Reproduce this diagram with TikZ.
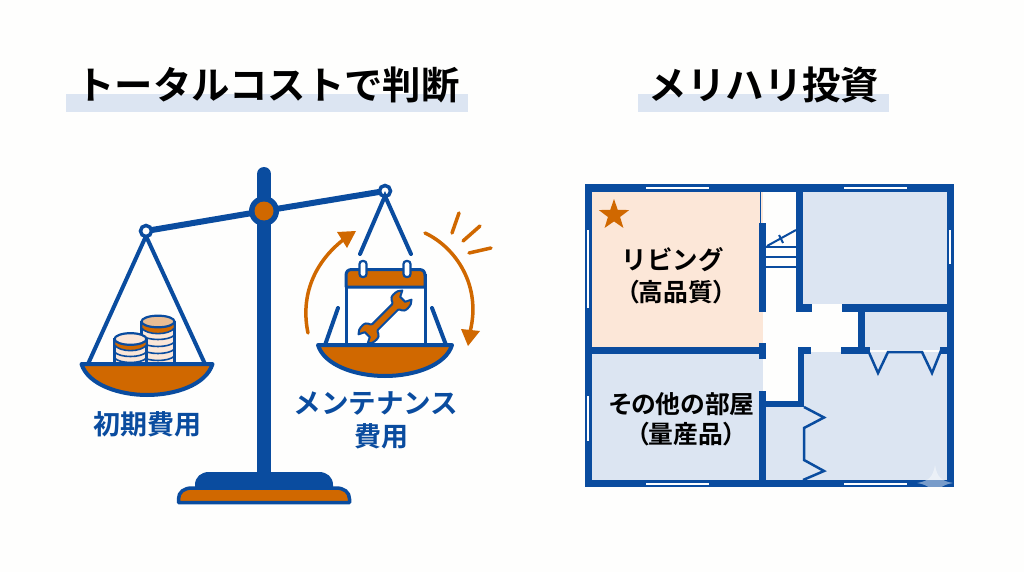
\documentclass[tikz,border=0pt]{standalone}
\usepackage{fontspec}
\usetikzlibrary{shapes.geometric}
\newfontfamily\jp{Noto Sans CJK JP}[BoldFont={Noto Sans CJK JP Bold}]
\newfontfamily\jpp{Noto Sans CJK JP}[BoldFont={Noto Sans CJK JP Bold},RawFeature=+palt]
\definecolor{navy}{HTML}{0A4C9F}
\definecolor{rust}{HTML}{D06800}
\definecolor{mist}{HTML}{DCE5F2}
\definecolor{peach}{HTML}{FCE7D8}
\definecolor{paper}{HTML}{FEFEFD}
\definecolor{coinpale}{HTML}{FBE6D8}
\definecolor{cointop}{HTML}{E9BD94}
\tikzset{
  heading/.style={font=\jp\bfseries\fontsize{38.4}{40}\selectfont,text=black,inner sep=0pt},
  costlabel/.style={font=\jp\bfseries\fontsize{27}{30}\selectfont,text=navy,inner sep=0pt},
  roomlabel/.style={font=\jpp\bfseries\fontsize{24.8}{30}\selectfont,text=black,inner sep=0pt},
  wall/.style={fill=navy},
  thinline/.style={draw=navy,line width=2.5pt,line join=miter},
  chain/.style={draw=navy,line width=4pt},
  swing/.style={draw=rust,line width=3.5pt,line cap=round},
  windowpane/.style={draw=white,line width=2.6pt},
  bowl/.style={draw=navy,fill=rust,line width=4pt,line join=round},
  coinband/.style={draw=navy,line width=1.6pt},
  coinbody/.style={draw=navy,line width=2.4pt,fill=coinpale}
}
\begin{document}
\begin{tikzpicture}[x=1pt,y=-1pt]
\useasboundingbox (0,0) rectangle (1024,572);
\fill[paper] (0,0) rectangle (1024,572);

% headings with their highlight bars
\fill[mist] (66,94) rectangle (468,112);
\fill[mist] (638,94) rectangle (889,112);
\node[heading] (titleL) at (268,85) {トータルコストで判断};
\node[heading] (titleR) at (764,85) {メリハリ投資};

% tall coin stack: body, orange band, coin edges, top face
\draw[coinbody] (141.5,322) rectangle (174.5,366);
\draw[coinband,fill=rust] (141.5,322) -- (141.5,328) .. controls (147,335.5) and (169,335.5) .. (174.5,328) -- (174.5,322) -- cycle;
\foreach \y in {335,342,349,356}{
  \draw[coinband] (141.5,\y) .. controls (147,\y+6) and (169,\y+6) .. (174.5,\y);
}
\draw[navy,line width=2.2pt,fill=cointop] (158,321.5) ellipse [x radius=16.5,y radius=5.8];

% short coin stack
\draw[coinbody] (114.5,339) rectangle (146.5,366);
\draw[coinband,fill=rust] (114.5,339) -- (114.5,345) .. controls (120,352.5) and (141,352.5) .. (146.5,345) -- (146.5,339) -- cycle;
\foreach \y in {352,358}{
  \draw[coinband] (114.5,\y) .. controls (120,\y+6) and (141,\y+6) .. (146.5,\y);
}
\draw[navy,line width=2.2pt,fill=coinpale] (130.5,339) ellipse [x radius=16,y radius=5.8];

% left pan
\draw[chain] (146,236) -- (88,364);
\draw[chain] (146,236) -- (205,364);
\draw[bowl] (81.5,364) .. controls (88,385) and (120,395) .. (147,395) .. controls (175,395) and (206,385) .. (212.5,364) -- cycle;

% stand, beam and pivot
\fill[navy] (195,490) -- (195,485) .. controls (195,477) and (201,472) .. (209,472) -- (319,472) .. controls (327,472) and (333,477) .. (333,485) -- (333,490) -- cycle;
\draw[navy,line width=14pt,line cap=round] (264,174) -- (264,480);
\draw[navy,line width=3.5pt,fill=rust,line join=round] (178.5,502.5) -- (178.5,499) .. controls (178.5,492) and (184,488) .. (192,488) -- (336,488) .. controls (344,488) and (349.5,492) .. (349.5,499) -- (349.5,502.5) -- cycle;
\draw[navy,line width=6pt] (146,231) -- (264,211) -- (385,191);
\fill[navy] (264,211) circle (15);
\fill[rust] (264,211) circle (9.5);
\draw[navy,line width=3.5pt,fill=paper] (146,231) circle (5.5);
\draw[navy,line width=3.5pt,fill=paper] (385,191) circle (5.5);

% right pan hangers
\draw[chain,line cap=round] (360,254) -- (385,196) -- (411,254);
\draw[chain,line cap=round] (338,308) -- (325,345);
\draw[chain,line cap=round] (432,308) -- (446,345);

% maintenance calendar
\draw[navy,line width=3pt,fill=white] (346,345) -- (346,275) -- (425,275) -- (425,345);
\draw[navy,line width=3pt,fill=rust,line join=round] (346,287) -- (346,275.5) .. controls (346,271.5) and (348,269.5) .. (352,269.5) -- (419,269.5) .. controls (423,269.5) and (425,271.5) .. (425,275.5) -- (425,287) -- cycle;
\draw[navy,line width=2.2pt,fill=white,rounded corners=3pt] (359.5,261) rectangle (366.5,277);
\draw[navy,line width=2.2pt,fill=white,rounded corners=3pt] (403.5,261) rectangle (410.5,277);

% wrench
\begin{scope}[shift={(385,317)},rotate=45]
\draw[navy,line width=2pt,fill=rust,line join=round]
  (-14,4) -- (14,4) .. controls (17,4) and (15,10) .. (22,10)
  .. controls (26,10) and (29,9) .. (31,6.5) -- (25,3.5) -- (25,-3.5) -- (31,-6.5)
  .. controls (29,-9) and (26,-10) .. (22,-10) .. controls (15,-10) and (17,-4) .. (14,-4)
  -- (-14,-4) .. controls (-17,-4) and (-15,-10) .. (-22,-10)
  .. controls (-26,-10) and (-29,-9) .. (-31,-6.5) -- (-25,-3.5) -- (-25,3.5) -- (-31,6.5)
  .. controls (-29,9) and (-26,10) .. (-22,10) .. controls (-15,10) and (-17,4) .. (-14,4) -- cycle;
\end{scope}

% right pan bowl
\draw[bowl] (318,345) .. controls (324,365) and (355,376) .. (385,376) .. controls (415,376) and (446,365) .. (452,345) -- cycle;

% motion arrows and sparkle strokes
\draw[swing] (308,333) .. controls (300,295) and (315,262) .. (343,240);
\fill[rust] (356,231) -- (337,232) -- (347,248) -- cycle;
\draw[swing] (425,233) .. controls (455,247) and (482,285) .. (470,332);
\fill[rust] (468,346) -- (461,329) -- (480,331) -- cycle;
\draw[swing] (452,233) -- (459,213);
\draw[swing] (463,241) -- (480,226);
\draw[swing] (469,253) -- (491,248);

% cost labels
\node[costlabel] (initial) at (147,424) {初期費用};
\node[costlabel,font=\jp\bfseries\fontsize{27.6}{30}\selectfont] (maintA) at (376,403) {メンテナンス};
\node[costlabel] (maintB) at (381,436) {費用};

% room fills
\fill[peach] (592,192) rectangle (763,347);
\fill[mist] (592,354) rectangle (763,480);
\fill[mist] (803,192) rectangle (947,304);
\fill[mist] (865,312) rectangle (947,350);
\fill[mist] (804,352) rectangle (947,480);
\fill[mist] (766,407) rectangle (804,480);

% outer walls
\draw[navy,line width=7.5pt] (588.5,187.8) rectangle (950.5,483.5);

% inner walls
\fill[wall] (585,347) rectangle (766,354);
\fill[wall] (759,343) rectangle (766,359);
\fill[wall] (759,223) rectangle (766,312);
\fill[navy] (759.5,192) rectangle (761,223);
\fill[wall] (759,391) rectangle (766,487);
\fill[wall] (796,184) rectangle (803,312);
\fill[wall] (796,304) rectangle (812,312);
\fill[wall] (842,304) rectangle (954,312);
\fill[wall] (858,304) rectangle (865,354);
\fill[wall] (841,347) rectangle (870,354);
\fill[wall] (940,347) rectangle (947,354);
\fill[wall] (798,347) rectangle (804,407);
\fill[wall] (798,347) rectangle (811,354);
\fill[wall] (759,401) rectangle (804,407);

% stairs
\draw[thinline,line width=2pt] (766,247) -- (796,247);
\draw[thinline,line width=2pt] (766,257) -- (796,257);
\draw[thinline,line width=2pt] (766,267) -- (796,267);
\draw[thinline,line width=2pt] (767,246) -- (796,230);
\draw[thinline,line width=2pt] (779,235) -- (783,243);

% folding doors
\draw[thinline] (867,348) -- (878,373) -- (888,352) -- (922,352) -- (932,373) -- (942,348);
\draw[thinline] (804,407) -- (824,417.5) -- (804,428) -- (804,460) -- (824,471) -- (803,480);

% windows
\draw[windowpane] (646,188) -- (709,188);
\draw[windowpane] (844,188) -- (907,188);
\draw[windowpane] (588,230) -- (588,308);
\draw[windowpane] (950,230) -- (950,264);
\draw[windowpane] (588,396) -- (588,441);
\draw[windowpane] (646,484) -- (709,484);
\draw[windowpane] (844,484) -- (907,484);

% faint sparkle over the lower right corner
\fill[white,opacity=.45] (935,465) .. controls (937,477) and (941,481) .. (953,483) .. controls (941,485) and (937,489) .. (935,501) .. controls (933,489) and (929,485) .. (917,483) .. controls (929,481) and (933,477) .. (935,465) -- cycle;

% star and room labels
\node[star,star points=5,star point ratio=2.5,fill=rust,inner sep=0pt,minimum size=32pt] (favourite) at (614,215) {};
\node[roomlabel,font=\jp\bfseries\fontsize{25.5}{30}\selectfont] (livingA) at (672.5,260) {リビング};
\node[roomlabel] (livingB) at (676,292) {（高品質）};
\node[roomlabel] (otherA) at (682,404) {その他の部屋};
\node[roomlabel] (otherB) at (686,434) {（量産品）};
\end{tikzpicture}
\end{document}
